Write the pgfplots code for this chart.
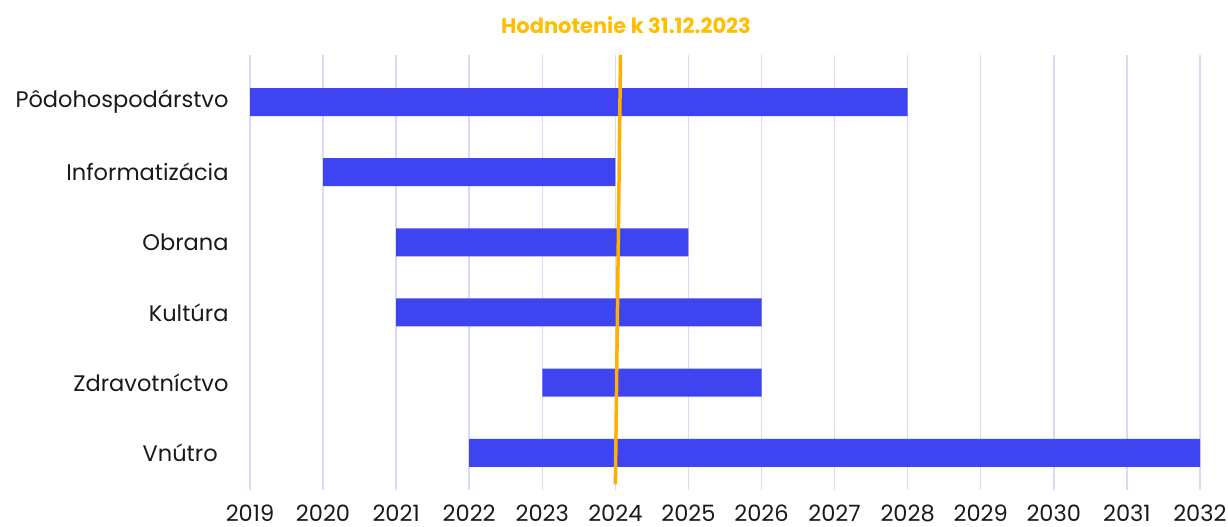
\documentclass[border=0pt]{standalone}
\usepackage{fontspec}
\setmainfont{Poppins}
\newfontfamily\titlefont{Poppins}
\usepackage{pgfplots}
\pgfplotsset{compat=1.18}
\definecolor{barblue}{RGB}{61,68,240}
\definecolor{gridc}{RGB}{214,219,246}
\definecolor{lineor}{RGB}{255,176,0}
\definecolor{titleor}{RGB}{255,190,0}
\begin{document}
\begin{tikzpicture}[x=1pt,y=1pt]
\useasboundingbox (0,0) rectangle (1228,527);
\begin{axis}[
  at={(250pt,37pt)}, anchor=south west,
  scale only axis, width=950pt, height=435pt,
  xmin=2019, xmax=2032, ymin=-0.53, ymax=5.67,
  axis line style={draw=none},
  xtick={2019,...,2032},
  xticklabel style={/pgf/number format/1000 sep={}},
  /pgf/number format/assume math mode=true,
  ytick={0,1,2,3,4,5},
  yticklabels={Vnútro\phantom{x},Zdravotníctvo,Kultúra,Obrana,Informatizácia,Pôdohospodárstvo},
  tick style={draw=none},
  ticklabel style={font=\fontsize{22.5}{26}\selectfont, text=black!90},
  xticklabel style={anchor=base, yshift=-31pt},
  yticklabel style={xshift=-18pt},
  xmajorgrids, grid style={gridc, line width=1.5pt},
  xbar stacked, bar width=28pt,
  clip=false,
]
\addplot [draw=none, fill=none] coordinates {(2019,5) (2020,4) (2021,3) (2021,2) (2023,1) (2022,0)};
\addplot [draw=none, fill=barblue] coordinates {(9,5) (4,4) (4,3) (5,2) (3,1) (10,0)};
\end{axis}
\begin{axis}[
  at={(250pt,37pt)}, anchor=south west,
  scale only axis, width=950pt, height=435pt,
  xmin=2019, xmax=2032, ymin=-0.53, ymax=5.67,
  hide axis, clip=false,
]
\addplot [draw=lineor, line width=3.5pt, no marks] coordinates {(2024.0,-0.45) (2024.07,5.67)};
\end{axis}
\node[font=\titlefont\bfseries\fontsize{21}{24}\selectfont, text=titleor] at (626,502) {Hodnotenie k 31.12.2023};
\end{tikzpicture}
\end{document}
